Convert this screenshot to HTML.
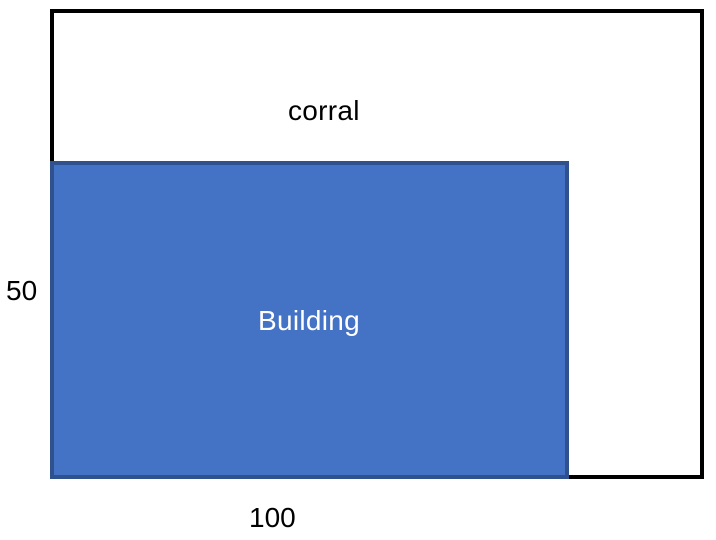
<!DOCTYPE html>
<html><head><meta charset="utf-8"><style>
body{margin:0;width:716px;height:540px;background:#fff;position:relative;overflow:hidden;font-family:"Liberation Sans",Calibri,sans-serif}
div{position:absolute;box-sizing:border-box}
.t{font-size:28px;line-height:30px;white-space:nowrap}
</style></head><body>
<div style="left:50px;top:9px;width:654px;height:470px;border:4px solid #000"></div>
<div style="left:50px;top:161px;width:519px;height:318px;background:#4472C4;border:4px solid #2F528F"></div>
<div class="t" style="left:288px;top:96px;color:#000;letter-spacing:0.3px">corral</div>
<div class="t" style="left:258px;top:306px;color:#fff;letter-spacing:0.3px">Building</div>
<div class="t" style="left:6px;top:276px;color:#000">50</div>
<div class="t" style="left:249px;top:503px;color:#000">100</div>
</body></html>
